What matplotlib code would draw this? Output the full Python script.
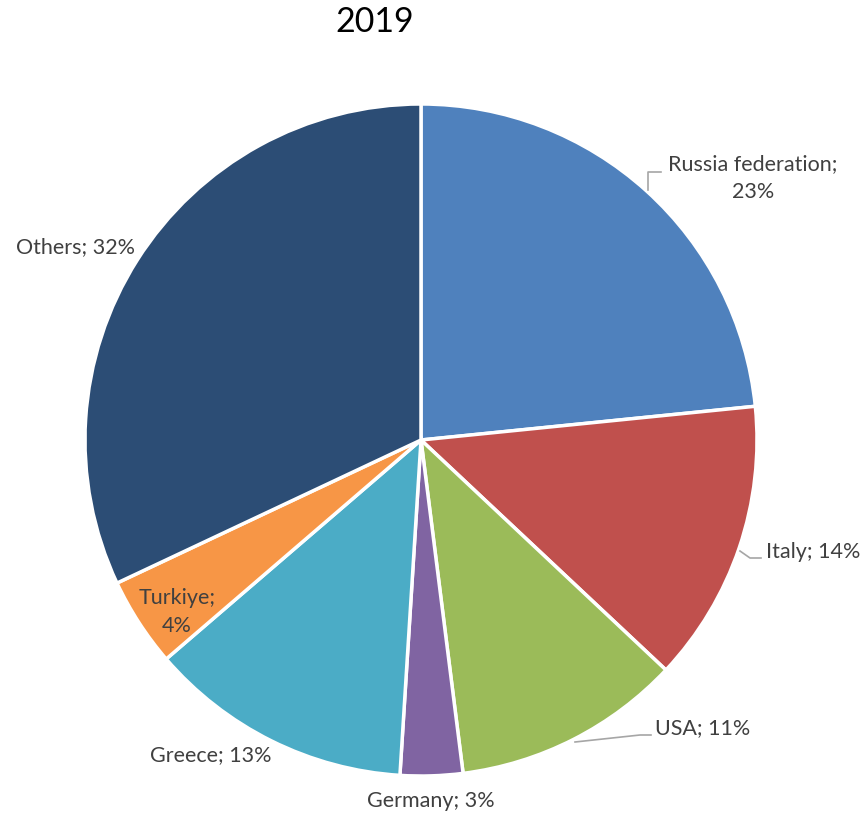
import matplotlib.pyplot as plt

countries = ["Russia federation", "Italy", "USA", "Germany", "Greece", "Turkiye", "Others"]
shares = [23.4, 13.6, 11.0, 3.0, 12.7, 4.3, 32.0]
colors = ["#4F81BD", "#C0504D", "#9BBB59", "#8064A2", "#4BACC6", "#F79646", "#2C4D75"]

W, H = 866, 817
cx, cy, r = 421, 440, 336

fig = plt.figure(figsize=(W / 100, H / 100), dpi=100)
ax = fig.add_axes([(cx - r) / W, (H - cy - r) / H, 2 * r / W, 2 * r / H])

ax.pie(shares, colors=colors, startangle=90, counterclock=False, radius=1,
       wedgeprops=dict(edgecolor="white", linewidth=2.5))
ax.set_xlim(-1, 1)
ax.set_ylim(-1, 1)
ax.set_aspect("equal")
ax.axis("off")


def px(x, y):
    # pixel position -> data coords of the pie axes
    return (x - cx) / r, (cy - y) / r


txt = dict(color="#404040", fontsize=15.5, family="Lato", linespacing=1.45)
lbl = [f"{c}; {round(s)}%" for c, s in zip(countries, shares)]

# label placement (pixel positions)
ax.text(*px(753, 178), lbl[0].replace("; ", ";\n"), ha="center", va="center", **txt)
ax.text(*px(766, 552), lbl[1], ha="left", va="center", **txt)
ax.text(*px(655, 728), lbl[2], ha="left", va="center", **txt)
ax.text(*px(431, 801), lbl[3], ha="center", va="center", **txt)
ax.text(*px(211, 755), lbl[4], ha="center", va="center", **txt)
ax.text(*px(177, 612), lbl[5].replace("; ", ";\n"), ha="center", va="center", **txt)
ax.text(*px(75, 247), lbl[6], ha="center", va="center", **txt)

# leader lines
lc = dict(color="#A6A6A6", linewidth=1.2, clip_on=False)
for pts in [[(648, 190), (648, 172), (661, 172)],
            [(740, 551), (750, 558), (761, 558)],
            [(575, 742), (640, 735), (651, 735)]]:
    xs, ys = zip(*[px(*p) for p in pts])
    ax.plot(xs, ys, **lc)

fig.text(375 / W, 1 - 22 / H, "2019", ha="center", va="center",
         fontsize=24.5, color="black", family="Lato")

fig.savefig("out.png", dpi=100)
